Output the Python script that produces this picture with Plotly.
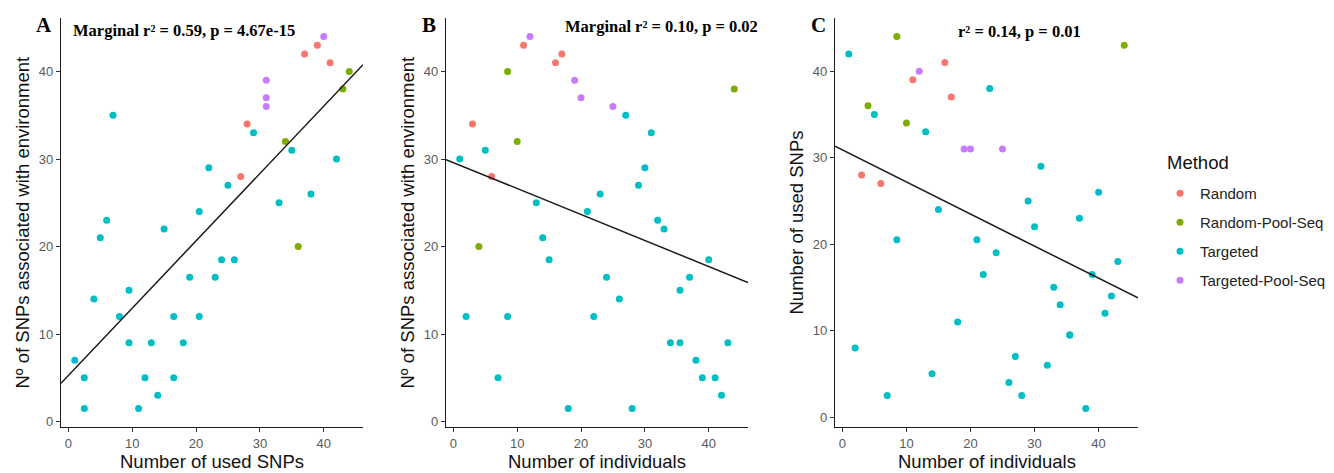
import plotly.graph_objects as go

# ---------------- data ----------------
methods = ["Random", "Random-Pool-Seq", "Targeted", "Targeted-Pool-Seq"]
method_colors = ["#F8766D", "#7CAE00", "#00BFC4", "#C77CFF"]

method = (["Random"] * 5 + ["Random-Pool-Seq"] * 4 + ["Targeted-Pool-Seq"] * 4
          + ["Targeted"] * 31)
used_snps = [39, 37, 41, 28, 27,
             44, 43, 34, 36,
             40, 31, 31, 31,
             7, 29, 35, 42, 22, 25, 38, 33, 20.5, 6, 15, 5, 24, 26, 19, 23,
             9.5, 4, 8, 20.5, 16.5, 13, 9.5, 18, 1, 2.5, 16.5, 12, 14, 11, 2.5]
individuals = [11, 17, 16, 3, 6,
               8.5, 44, 10, 4,
               12, 19, 20, 25,
               27, 31, 5, 1, 30, 29, 23, 13, 21, 32, 33, 14, 15, 40, 24, 37,
               35.5, 26, 2, 8.5, 22, 34, 35.5, 43, 38, 7, 39, 41, 42, 18, 28]
env_snps = [43, 42, 41, 34, 28,
            40, 38, 32, 20,
            44, 39, 37, 36,
            35, 33, 31, 30, 29, 27, 26, 25, 24, 23, 22, 21, 18.5, 18.5, 16.5, 16.5,
            15, 14, 12, 12, 12, 9, 9, 9, 7, 5, 5, 5, 3, 1.5, 1.5]

fit_intercept = [5.25, 29.6, 30.9]
fit_slope = [0.77, -0.297, -0.371]
stat_labels = ["Marginal r\u00b2 = 0.59, p = 4.67e-15",
               "Marginal r\u00b2 = 0.10, p = 0.02",
               "r\u00b2 = 0.14, p = 0.01"]
panel_labels = ["A", "B", "C"]
x_titles = ["Number of used SNPs", "Number of individuals", "Number of individuals"]
y_titles = ["N\u00ba of SNPs associated with environment",
            "N\u00ba of SNPs associated with environment",
            "Number of used SNPs"]
tick_vals = [0, 10, 20, 30, 40]
legend_title = "Method"

panels = [(used_snps, env_snps), (individuals, env_snps), (individuals, used_snps)]

# ---------------- layout geometry ----------------
W, H = 1334, 473
x_dom_px = [(61, 363), (446, 748), (835, 1138)]
y_dom_px = (18, 427)   # top, bottom
sans = "Liberation Sans, Arial, sans-serif"
serif = "Liberation Serif, Times New Roman, serif"


def expand(vals, frac=0.05):
    lo, hi = min(vals), max(vals)
    d = (hi - lo) * frac
    return [lo - d, hi + d]


fig = go.Figure()
annotations = []
layout_axes = {}

for i, (xs, ys) in enumerate(panels):
    n = "" if i == 0 else str(i + 1)
    xr = expand(xs)
    yr = expand(ys)
    for m, c in zip(methods, method_colors):
        px_ = [x for x, mm in zip(xs, method) if mm == m]
        py_ = [y for y, mm in zip(ys, method) if mm == m]
        fig.add_trace(go.Scatter(
            x=px_, y=py_, mode="markers", name=m, legendgroup=m,
            showlegend=(i == 0),
            marker=dict(color=c, size=7, line=dict(width=0)),
            xaxis="x" + n, yaxis="y" + n, cliponaxis=False))
    lx = xr
    ly = [fit_intercept[i] + fit_slope[i] * v for v in lx]
    fig.add_trace(go.Scatter(x=lx, y=ly, mode="lines", showlegend=False,
                             line=dict(color="#1a1a1a", width=1.5),
                             xaxis="x" + n, yaxis="y" + n, hoverinfo="skip"))
    x0, x1 = x_dom_px[i]
    axis_common = dict(showgrid=False, zeroline=False, showline=True,
                       linecolor="#1a1a1a", linewidth=1.4, ticks="outside",
                       ticklen=4, tickwidth=1.1, tickcolor="#333333",
                       tickvals=tick_vals, automargin=False,
                       tickfont=dict(family=sans, size=13, color="#595959"))
    layout_axes["xaxis" + n] = dict(axis_common, domain=[x0 / W, x1 / W],
                                    range=xr, anchor="y" + n)
    layout_axes["yaxis" + n] = dict(axis_common, domain=[1 - y_dom_px[1] / H, 1 - y_dom_px[0] / H],
                                    range=yr, anchor="x" + n)
    # axis titles
    annotations.append(dict(text=x_titles[i], xref="paper", yref="paper",
                            x=(x0 + x1) / 2 / W, y=1 - 461 / H, showarrow=False,
                            xanchor="center", yanchor="middle",
                            font=dict(family=sans, size=18.5, color="#111111")))
    annotations.append(dict(text=y_titles[i], xref="paper", yref="paper",
                            x=(x0 - 39) / W, y=1 - ((y_dom_px[0] + y_dom_px[1]) / 2) / H,
                            textangle=-90, showarrow=False,
                            xanchor="center", yanchor="middle",
                            font=dict(family=sans, size=18.5, color="#111111")))
    # panel letter
    annotations.append(dict(text="<b>%s</b>" % panel_labels[i], xref="paper", yref="paper",
                            x=(x0 - 17) / W, y=1 - 25 / H, showarrow=False,
                            xanchor="center", yanchor="middle",
                            font=dict(family=serif, size=21, color="#000000")))

# statistics labels
stat_pos = [(71, 31), (563, 27), (956, 32)]
for txt, (sx, sy) in zip(stat_labels, stat_pos):
    annotations.append(dict(text="<b>%s</b>" % txt, xref="paper", yref="paper",
                            x=sx / W, y=1 - sy / H, showarrow=False,
                            xanchor="left", yanchor="middle",
                            font=dict(family=serif, size=16.5, color="#000000")))

# legend title
annotations.append(dict(text=legend_title, xref="paper", yref="paper",
                        x=1165 / W, y=1 - 162 / H, showarrow=False,
                        xanchor="left", yanchor="middle",
                        font=dict(family=sans, size=18.5, color="#111111")))

fig.update_layout(
    width=W, height=H, margin=dict(l=0, r=0, t=0, b=0),
    paper_bgcolor="white", plot_bgcolor="white",
    annotations=annotations,
    showlegend=True,
    legend=dict(x=1160 / W, y=1 - 177 / H, xanchor="left", yanchor="top",
                font=dict(family=sans, size=15, color="#222222"),
                traceorder="grouped", tracegroupgap=6.5, bgcolor="rgba(0,0,0,0)"),
    **layout_axes)

fig.write_html("out.html")
